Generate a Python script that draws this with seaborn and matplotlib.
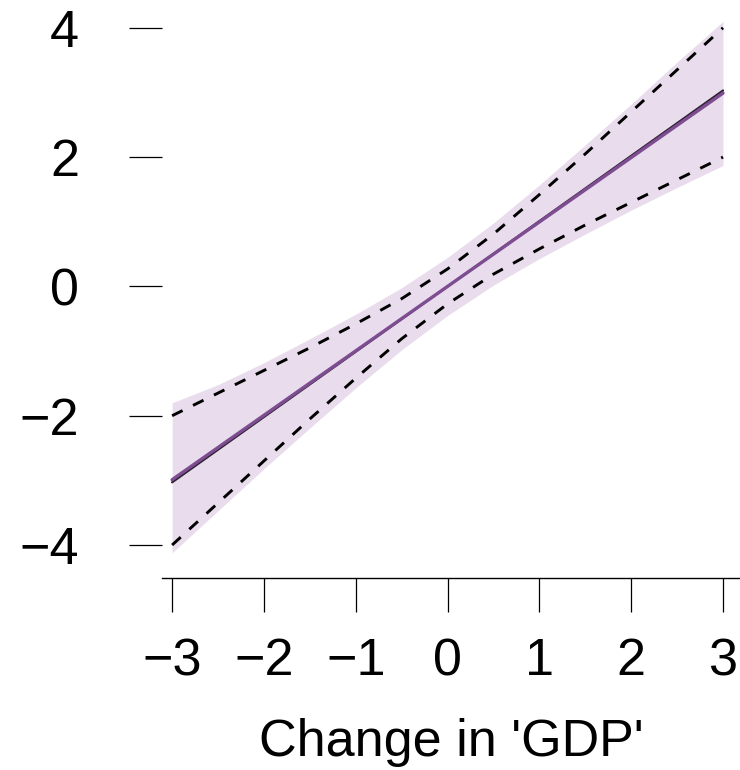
import numpy as np
import pandas as pd
import matplotlib
matplotlib.use("Agg")
import matplotlib.pyplot as plt
import seaborn as sns

# ---- data ----
x_grid = [-3.0, -2.5, -2.0, -1.5, -1.0, -0.5, 0.0, 0.5, 1.0, 1.5, 2.0, 2.5, 3.0]
dash_upper = [-2.00, -1.65, -1.30, -0.95, -0.58, -0.19, 0.27, 0.81, 1.42, 2.05, 2.70, 3.35, 4.00]
dash_lower = [-4.00, -3.35, -2.70, -2.05, -1.42, -0.81, -0.27, 0.19, 0.58, 0.95, 1.30, 1.65, 2.00]
band_upper = [-1.80, -1.52, -1.18, -0.81, -0.43, -0.02, 0.45, 0.98, 1.57, 2.19, 2.82, 3.47, 4.10]
band_lower = [-4.12, -3.47, -2.82, -2.19, -1.57, -0.98, -0.45, 0.02, 0.43, 0.81, 1.18, 1.53, 1.87]
line_x = [-3.0, 3.0]
black_y = [-3.03, 3.03]
purple_y = [-2.99, 2.99]
x_ticks = [-3, -2, -1, 0, 1, 2, 3]
y_ticks = [-4, -2, 0, 2, 4]
x_label = "Change in 'GDP'"

sns.set_style("white")
plt.rcParams['font.family'] = ['Liberation Sans', 'DejaVu Sans']
plt.rcParams['text.color'] = 'black'
plt.rcParams['xtick.color'] = 'black'
plt.rcParams['ytick.color'] = 'black'
plt.rcParams['axes.labelcolor'] = 'black'

W, H = 740, 770
fig = plt.figure(figsize=(W / 100, H / 100), dpi=100)
ax = fig.add_axes([162 / W, 1 - 578 / H, (740 - 162) / W, 578 / H])

ax.fill_between(x_grid, band_lower, band_upper, color='#E9DCEC', linewidth=0, zorder=1)

df_dash = pd.DataFrame({'x': x_grid, 'up': dash_upper, 'lo': dash_lower})
for col in ['up', 'lo']:
    sns.lineplot(data=df_dash, x='x', y=col, ax=ax, color='black', linewidth=2.1,
                 linestyle=(0, (4, 4)), zorder=3)

df_line = pd.DataFrame({'x': line_x, 'black': black_y, 'purple': purple_y})
sns.lineplot(data=df_line, x='x', y='black', ax=ax, color='#2b2030', linewidth=1.6, zorder=4)
sns.lineplot(data=df_line, x='x', y='purple', ax=ax, color='#7E4D91', linewidth=2.4, zorder=5)

ax.set_xlim(-3.11, 3.185)
ax.set_ylim(-4.51, 4.43)
ax.set_xticks(x_ticks)
ax.set_yticks(y_ticks)
ax.set_xticklabels([str(v).replace('-', '\u2212') for v in x_ticks])
ax.set_yticklabels([str(v).replace('-', '\u2212') for v in y_ticks])

for s in ['top', 'right', 'left']:
    ax.spines[s].set_visible(False)
ax.spines['bottom'].set_color('black')
ax.spines['bottom'].set_linewidth(1.0)

ax.tick_params(axis='x', direction='out', length=24.5, width=0.9, color='black',
               labelcolor='black', labelsize=37.5, pad=18, bottom=True)
ax.tick_params(axis='y', direction='out', length=23.8, width=0.9, color='black',
               labelcolor='black', labelsize=37.5, pad=36, left=True)

ax.set_xlabel(x_label, fontsize=37.5, labelpad=23, color='black')
ax.set_ylabel('')
ax.grid(False)

fig.savefig('out.png', dpi=100)
